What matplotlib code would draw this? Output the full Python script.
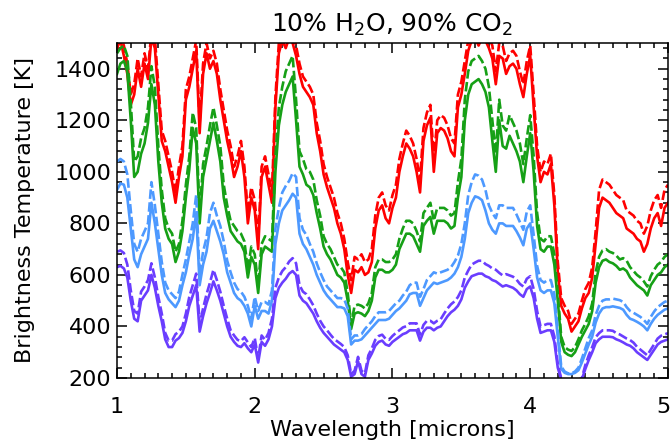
import numpy as np
import matplotlib.pyplot as plt
from matplotlib.transforms import ScaledTranslation

# brightness temperature spectra, 10% H2O / 90% CO2
# solid = model A, dashed = model B, four surface temperatures

wav = np.linspace(1.0, 5.0, 161)  # microns, 0.025 step

red = [1480,1510,1450,1380,1260,1300,1400,1330,1420,1360,1520,1480,1300,1120,1080,1020,960,880,980,1060,
       1280,1330,1400,1470,1150,1380,1460,1400,1430,1380,1280,1200,1120,1060,980,1020,1080,980,800,900,
       850,700,980,1020,950,880,1250,1460,1510,1480,1520,1500,1450,1380,1330,1310,1290,1260,1150,1080,
       990,940,900,860,800,760,700,600,530,620,610,630,600,610,650,780,850,870,820,800,
       860,900,1000,1060,1110,1090,1060,1000,920,1120,1180,1210,1000,1150,1170,1160,1130,1080,1060,1250,
       1300,1380,1470,1510,1520,1490,1520,1510,1480,1440,1340,1450,1440,1380,1410,1420,1400,1340,1290,1380,
       1450,1250,1060,960,1000,990,1030,870,610,480,450,430,380,400,420,470,510,530,590,720,
       860,900,890,880,860,840,830,820,780,770,760,740,730,690,720,780,820,840,790,860,
       880]
red_d = [1520,1530,1490,1420,1300,1340,1440,1370,1460,1400,1540,1520,1340,1160,1120,1060,1000,920,1020,1100,
         1320,1370,1440,1510,1190,1420,1500,1440,1470,1420,1320,1240,1160,1100,1020,1060,1120,1020,840,940,
         890,740,1020,1060,990,920,1290,1500,1540,1520,1540,1540,1490,1420,1370,1350,1330,1300,1190,1120,
         1030,980,940,900,840,800,740,650,580,670,660,680,650,660,700,830,900,920,870,850,
         910,950,1050,1110,1160,1140,1110,1050,970,1170,1230,1260,1050,1200,1220,1210,1180,1130,1110,1300,
         1350,1430,1510,1540,1540,1530,1540,1540,1520,1490,1390,1500,1490,1430,1460,1470,1450,1390,1340,1430,
         1490,1300,1100,1000,1040,1030,1070,910,650,510,480,460,410,430,450,500,545,570,630,770,
         930,970,960,950,930,910,900,890,850,840,830,810,800,760,790,850,890,910,860,930,
         950]

green = [1380,1420,1430,1390,1200,980,1000,1070,1110,1190,1340,1260,1040,880,780,740,720,650,690,770,
         900,1010,1170,1110,800,980,1050,1120,1190,1120,1040,900,830,770,750,730,720,690,590,670,
         640,530,680,710,700,690,1000,1180,1260,1310,1340,1370,1200,1020,990,950,940,910,840,780,
         710,680,660,630,600,590,570,500,390,450,455,450,440,460,500,590,620,620,610,610,
         620,640,700,730,760,760,750,720,690,790,810,825,760,810,810,810,800,780,790,900,
         980,1200,1300,1340,1350,1360,1340,1310,1250,1120,1000,1200,1100,1090,1140,1110,1080,1040,960,1060,
         1150,1000,790,700,690,710,710,640,500,340,300,290,285,300,330,360,385,410,460,570,
         630,655,660,650,645,635,620,625,615,590,575,560,550,540,520,560,580,600,610,630,
         640]
green_d = [1460,1480,1490,1450,1270,1040,1060,1130,1170,1250,1410,1330,1100,930,820,780,760,690,720,810,
           950,1060,1230,1170,840,1030,1100,1180,1250,1180,1100,950,870,810,790,770,760,730,620,710,
           680,560,720,750,740,730,1060,1250,1330,1390,1420,1450,1280,1080,1050,1010,1000,970,890,830,
           750,720,700,670,640,630,610,530,410,480,485,480,470,490,530,630,660,660,650,650,
           660,680,740,780,810,810,800,770,730,840,860,880,810,860,860,860,850,830,840,960,
           1050,1280,1390,1430,1440,1450,1430,1400,1330,1200,1070,1280,1180,1160,1220,1190,1160,1110,1030,1130,
           1220,1060,840,740,730,750,750,680,530,360,320,310,305,320,350,385,410,440,490,610,
           670,695,700,690,685,675,660,665,655,630,615,600,590,575,555,595,620,640,650,670,
           680]

blue = [930,955,950,900,780,660,630,680,710,740,880,800,700,600,530,505,490,475,500,560,
        610,680,740,840,560,640,690,780,810,770,730,680,610,570,530,510,500,480,450,400,
        480,430,460,460,450,500,720,800,850,870,890,915,900,760,720,700,670,640,600,570,
        540,520,505,490,475,475,470,440,330,345,345,350,365,380,395,410,425,425,425,430,
        445,460,470,485,500,525,530,530,480,510,540,555,570,565,570,575,580,590,605,630,
        670,740,840,880,905,900,890,850,800,775,760,800,800,790,790,790,770,745,715,780,
        800,700,590,540,530,540,540,490,360,235,220,215,215,220,230,260,295,330,360,415,
        450,470,475,475,478,475,472,465,445,430,425,418,410,400,385,410,430,445,455,465,
        470]
blue_d = [1040,1050,1040,990,850,720,690,740,770,800,960,870,760,650,570,540,525,510,535,600,
          660,730,800,910,600,690,745,840,880,830,790,730,655,610,570,545,535,515,480,430,
          515,460,495,495,485,540,780,860,920,945,965,995,980,820,775,755,720,690,645,610,
          580,555,540,525,510,510,505,470,350,365,365,370,390,405,420,440,455,455,455,460,
          475,490,500,520,535,560,570,570,515,545,580,595,610,605,610,615,620,630,650,675,
          720,800,910,960,990,985,970,930,870,840,820,870,870,860,860,860,835,805,775,845,
          870,755,635,580,570,580,580,525,385,245,225,218,218,225,240,275,315,355,385,445,
          480,500,505,505,508,505,502,495,475,460,453,445,437,425,410,437,458,475,485,495,
          500]

purple = [630,635,625,590,500,430,420,500,520,540,600,550,480,420,350,320,320,345,355,375,
          420,480,520,560,380,440,490,530,575,540,500,450,400,360,340,325,320,335,315,300,
          330,260,340,325,350,400,510,550,570,585,605,615,600,520,500,490,470,450,420,395,
          375,360,345,330,320,310,300,270,205,215,265,215,205,270,295,325,340,345,330,325,
          340,350,360,370,375,385,385,385,345,380,395,395,385,395,400,420,440,455,465,480,
          505,550,575,595,600,605,605,595,590,580,575,565,555,560,555,550,540,525,515,545,
          555,510,430,375,380,385,385,340,240,195,185,180,180,185,190,195,235,270,300,335,
          350,360,360,360,358,350,345,338,330,325,315,300,290,280,270,290,310,330,340,345,
          350]
purple_d = [690,695,685,640,540,460,450,535,555,580,645,590,515,450,375,345,345,370,380,400,
            450,515,560,605,410,470,525,570,620,580,535,480,430,385,365,348,343,358,338,320,
            355,275,365,348,375,430,550,590,615,630,652,665,645,560,535,525,505,482,450,422,
            400,385,368,352,342,332,320,288,215,228,282,228,218,288,315,348,363,368,352,348,
            363,375,385,396,401,412,412,412,368,406,422,422,412,422,428,450,470,486,497,514,
            540,590,617,640,648,655,655,642,635,625,620,608,598,603,598,593,582,565,555,585,
            595,545,460,400,405,410,410,362,255,198,188,183,183,188,193,200,250,288,320,358,
            374,385,385,385,383,374,369,361,353,347,337,321,310,299,288,310,331,353,364,369,
            374]

series = [(red, red_d, '#ff0000'),
          (green, green_d, '#16a016'),
          (blue, blue_d, '#4d99ff'),
          (purple, purple_d, '#6a3dff')]

plt.rcParams['font.family'] = 'DejaVu Sans'
plt.rcParams['font.size'] = 16

fig = plt.figure(figsize=(6.72, 4.46), dpi=100)
ax = fig.add_axes([0.1741, 0.1525, 0.8199, 0.7511])

for sol, dash, col in series:
    ax.plot(wav, sol, color=col, lw=1.9)
    ax.plot(wav, dash, color=col, lw=1.9, dashes=(3.6, 1.3))

ax.set_xlim(1, 5)
ax.set_ylim(200, 1500)
ax.set_xticks([1, 2, 3, 4, 5])
ax.set_xticks(np.arange(1, 5.01, 0.1), minor=True)
ax.set_yticks([200, 400, 600, 800, 1000, 1200, 1400])
ax.set_yticks(np.arange(200, 1501, 40), minor=True)
ax.tick_params(which='both', direction='in', top=True, right=True, width=1.1)
ax.tick_params(which='major', length=7)
ax.tick_params(axis='x', which='major', pad=14)
ax.tick_params(axis='y', which='major', pad=4)
ax.tick_params(which='minor', length=3.5)
for s in ax.spines.values():
    s.set_linewidth(1.1)

# last x label sits on the figure edge; nudge it in a little
lab5 = ax.get_xticklabels()[-1]
lab5.set_transform(lab5.get_transform() + ScaledTranslation(-0.05, 0, fig.dpi_scale_trans))

ax.set_xlabel('Wavelength [microns]', labelpad=2)
ax.set_ylabel('Brightness Temperature [K]', labelpad=14)
ax.set_title('10% H$_2$O, 90% CO$_2$', pad=8, fontsize=18)

fig.savefig('out.png', dpi=100)
